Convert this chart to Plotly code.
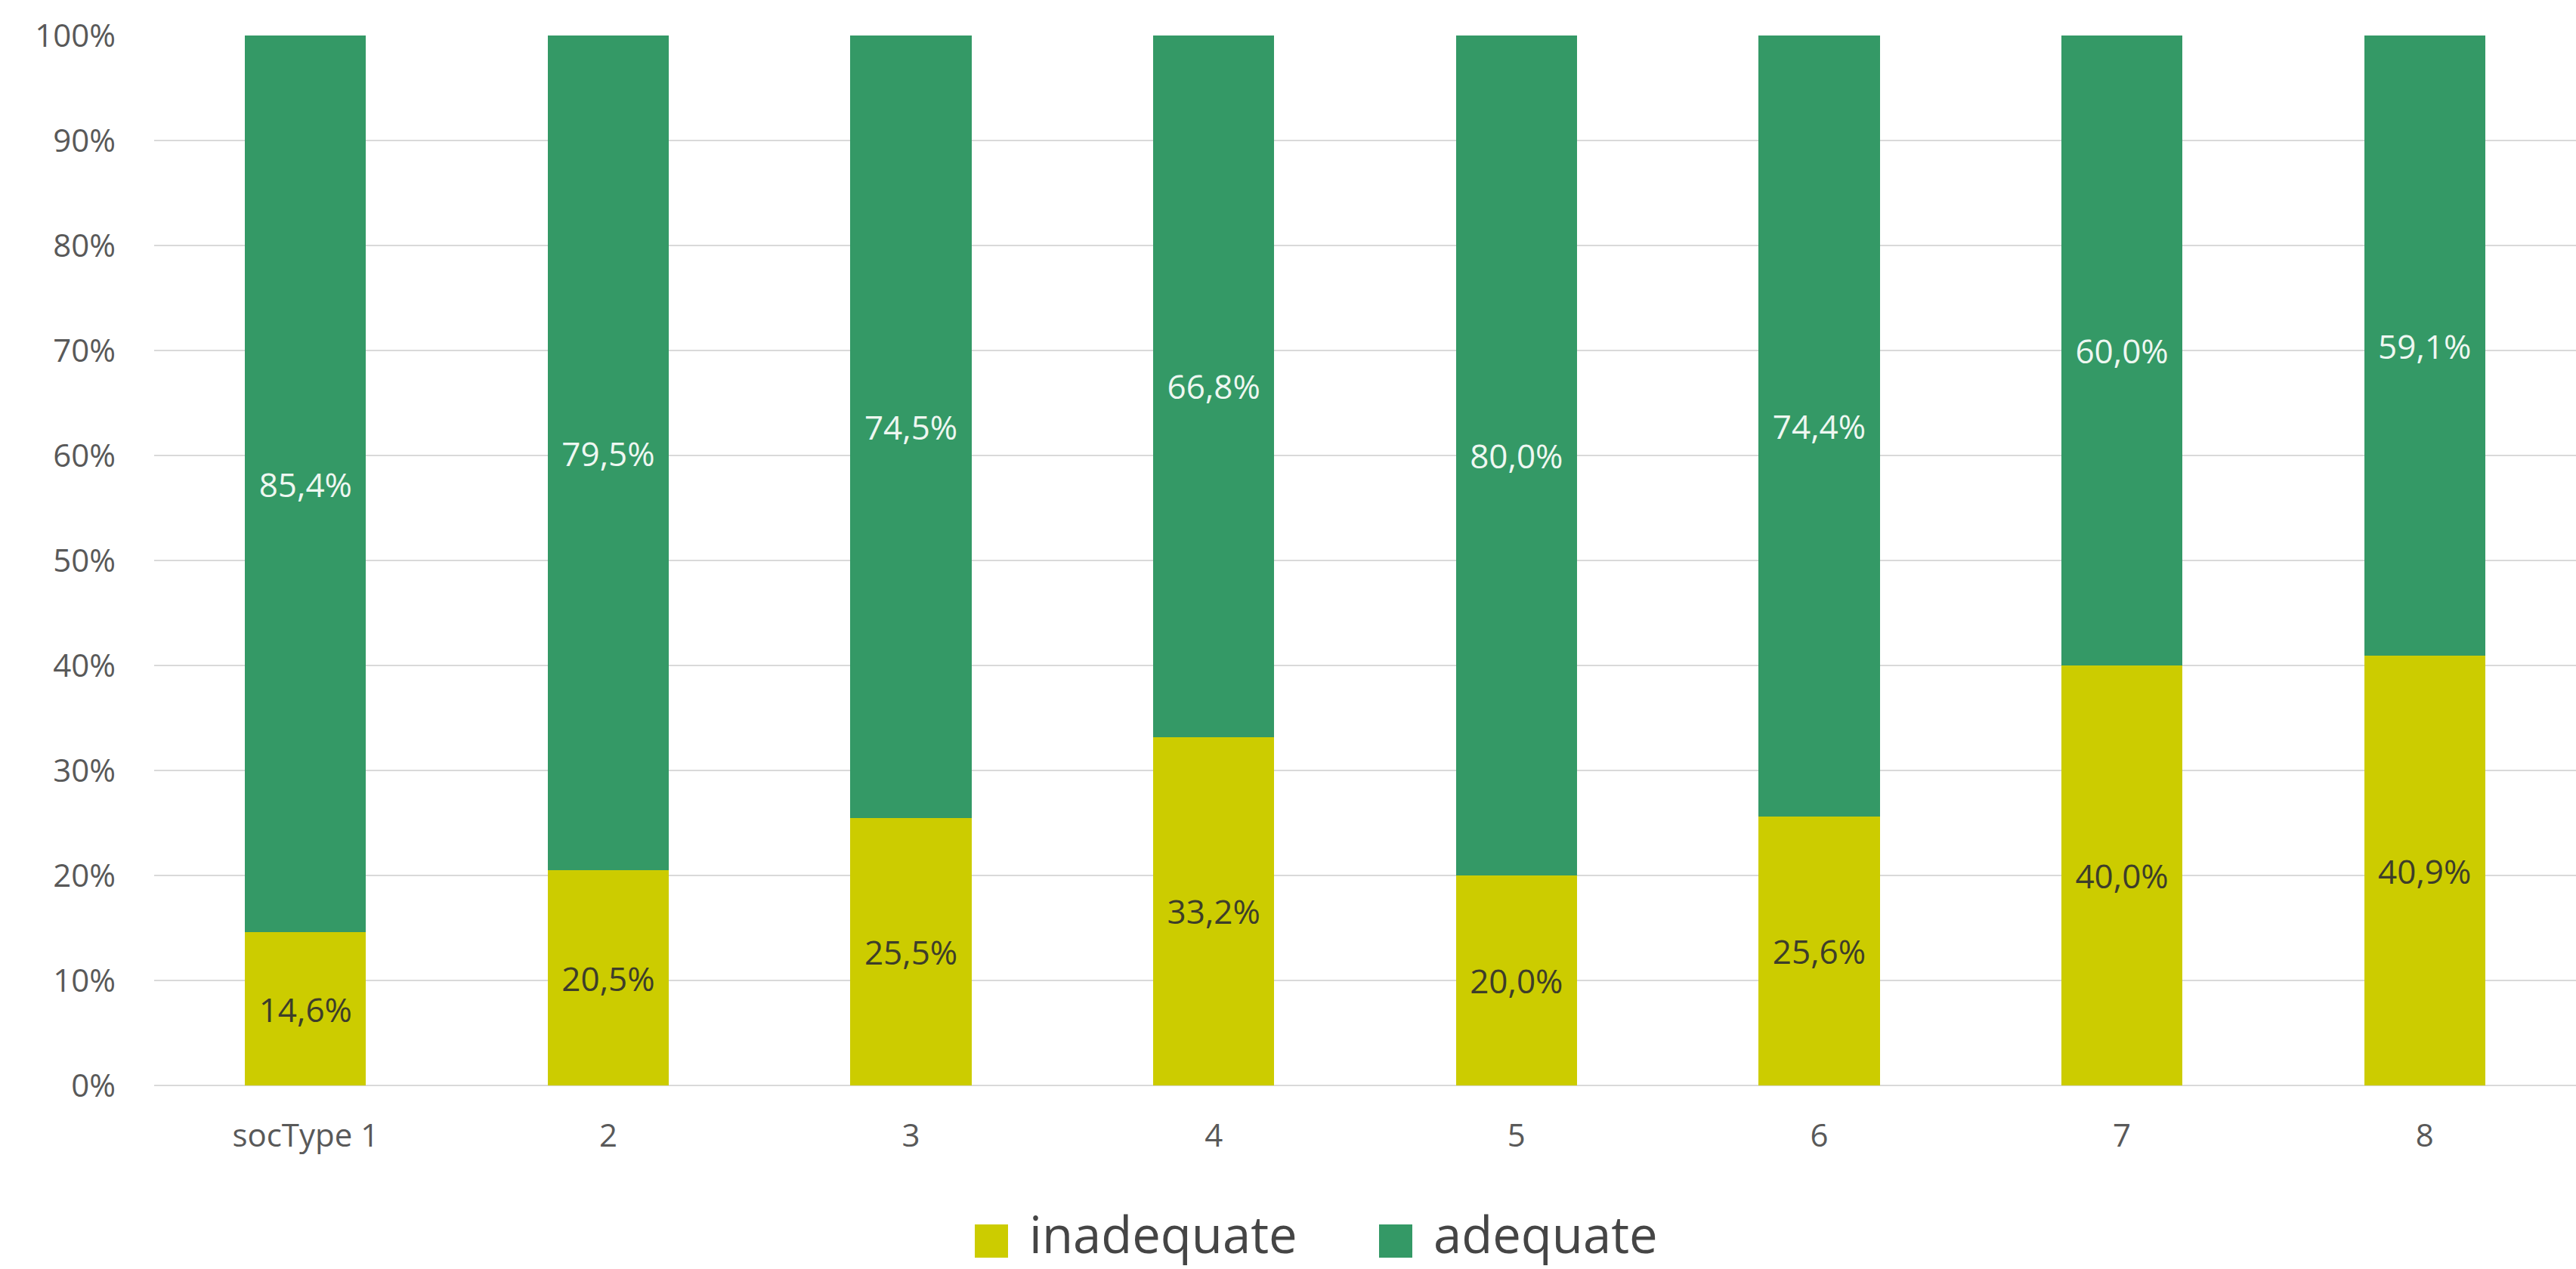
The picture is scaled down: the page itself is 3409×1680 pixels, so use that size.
import plotly.graph_objects as go

categories = ["socType 1", "2", "3", "4", "5", "6", "7", "8"]
inadequate = [14.6, 20.5, 25.5, 33.2, 20.0, 25.6, 40.0, 40.9]
adequate = [85.4, 79.5, 74.5, 66.8, 80.0, 74.4, 60.0, 59.1]
series_names = ["inadequate", "adequate"]
series_colors = ["#cccc00", "#349966"]
label_colors = ["#3d3d2a", "#eef7f1"]

W, H = 3409, 1680
L, R, T, B = 204, 0, 47, 243
FONT = "Open Sans"

fig = go.Figure()
for name, vals, col, lc in zip(series_names, [inadequate, adequate], series_colors, label_colors):
    fig.add_trace(go.Bar(
        x=categories, y=vals, name=name,
        marker=dict(color=col, line=dict(width=0)),
        texttemplate="%{y:.1f}%",
        textposition="inside", insidetextanchor="middle",
        textangle=0, constraintext="none",
        textfont=dict(family=FONT, size=44, color=lc),
        showlegend=False,
    ))

# manual legend (large keys like the original)
pw, ph = W - L - R, H - T - B
def px(xp):
    return (xp - L) / pw
def py(yp):
    return (H - B - yp) / ph

legend_items = [(1290, 1360), (1825, 1895)]
shapes = []
annotations = []
for (sx, tx), name, col in zip(legend_items, series_names, series_colors):
    shapes.append(dict(type="rect", xref="paper", yref="paper",
                       x0=px(sx), x1=px(sx + 44), y0=py(1665), y1=py(1621),
                       fillcolor=col, line=dict(width=0)))
    annotations.append(dict(text=name, xref="paper", yref="paper",
                            x=px(tx), y=py(1633), xanchor="left", yanchor="middle",
                            showarrow=False, font=dict(family=FONT, size=67, color="#454545")))

fig.update_layout(
    width=W, height=H,
    margin=dict(l=L, r=R, t=T, b=B),
    barmode="stack", bargap=0.6,
    paper_bgcolor="white", plot_bgcolor="white",
    separators=",.",
    font=dict(family=FONT, color="#595959"),
    shapes=shapes, annotations=annotations,
    showlegend=False,
)
fig.update_yaxes(
    range=[0, 100], dtick=10, ticksuffix="%",
    showgrid=True, gridcolor="#d9d9d9", gridwidth=2,
    zeroline=True, zerolinecolor="#d9d9d9", zerolinewidth=2,
    showline=False, ticks="",
    tickfont=dict(family=FONT, size=42, color="#595959"),
    ticklabelstandoff=50,
)
fig.update_xaxes(
    showgrid=False, showline=False, ticks="",
    tickfont=dict(family=FONT, size=42, color="#595959"),
    ticklabelstandoff=38,
)

fig.write_html("out.html", config={"displayModeBar": False},
               post_script="document.body.style.margin='0px';")
